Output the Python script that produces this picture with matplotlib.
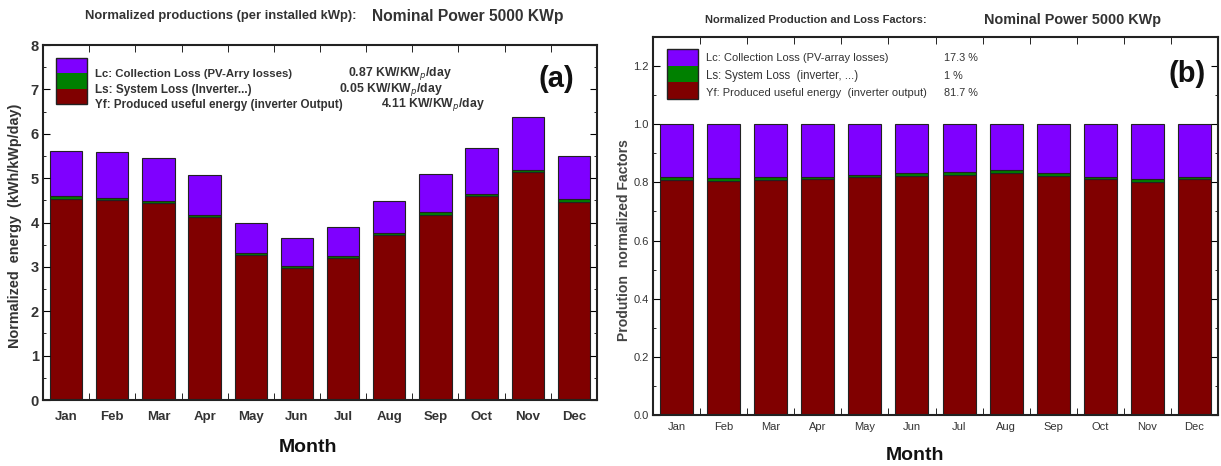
import numpy as np
import matplotlib
matplotlib.use('Agg')
import matplotlib.pyplot as plt
from matplotlib.patches import Rectangle

plt.rcParams['font.family'] = ['Liberation Sans', 'DejaVu Sans']

months = ['Jan', 'Feb', 'Mar', 'Apr', 'May', 'Jun', 'Jul', 'Aug', 'Sep', 'Oct', 'Nov', 'Dec']

# (a) normalized energy, kWh/kWp/day
yf_a = [4.54, 4.51, 4.44, 4.12, 3.26, 2.98, 3.20, 3.71, 4.18, 4.60, 5.13, 4.47]
ls_a = [0.06, 0.05, 0.05, 0.05, 0.05, 0.04, 0.05, 0.05, 0.05, 0.05, 0.06, 0.06]
lc_a = [1.01, 1.03, 0.96, 0.90, 0.69, 0.63, 0.65, 0.73, 0.87, 1.02, 1.19, 0.96]

# (b) normalized factors
yf_b = [0.809, 0.805, 0.809, 0.813, 0.818, 0.823, 0.825, 0.832, 0.823, 0.811, 0.803, 0.813]
ls_b = [0.009, 0.010, 0.008, 0.007, 0.007, 0.009, 0.012, 0.009, 0.009, 0.009, 0.010, 0.007]
lc_b = [1 - a - b for a, b in zip(yf_b, ls_b)]

legend_a = ['Lc: Collection Loss (PV-Arry losses)', 'Ls: System Loss (Inverter...)',
            'Yf: Produced useful energy (inverter Output)']
values_a = ['0.87 KW/KW$_p$/day', '0.05 KW/KW$_p$/day', '4.11 KW/KW$_p$/day']
legend_b = ['Lc: Collection Loss (PV-array losses)', 'Ls: System Loss  (inverter, ...)',
            'Yf: Produced useful energy  (inverter output)']
values_b = ['17.3 %', '1 %', '81.7 %']

purple = '#7f00ff'
green = '#008000'
red = '#800000'
txt = '#333333'

W, H = 1221, 466
fig = plt.figure(figsize=(W / 100, H / 100), dpi=100)
renderer = fig.canvas.get_renderer()


def fx(px):
    return px / W


def fy(py):
    return 1 - py / H


def fit(t, size, vertical=False):
    # scale a text so it spans the given pixel width (or height if rotated)
    bb = t.get_window_extent(renderer)
    cur = bb.height if vertical else bb.width
    t.set_fontsize(t.get_fontsize() * size / cur)
    return t


def stack(ax, yf, ls, lc):
    x = np.arange(len(months))
    kw = dict(width=0.7, edgecolor='#222222', linewidth=0.8)
    ax.bar(x, yf, color=red, **kw)
    ax.bar(x, ls, bottom=yf, color=green, **kw)
    ax.bar(x, lc, bottom=np.array(yf) + np.array(ls), color=purple, **kw)
    ax.set_xlim(-0.5, 11.5)
    ax.set_xticks(x)
    ax.set_xticks(np.arange(0.5, 11.5, 1), minor=True)
    ax.tick_params(axis='x', which='major', length=0)
    ax.tick_params(axis='x', which='minor', direction='in', length=5, top=True, bottom=True)
    ax.tick_params(axis='y', which='both', direction='in', right=True)
    ax.tick_params(axis='y', which='major', length=5)
    ax.tick_params(axis='y', which='minor', length=2.5)
    for s in ax.spines.values():
        s.set_linewidth(1.5)
        s.set_color('#222222')


# ---------- (a)
ax1 = fig.add_axes([fx(43), fy(400), fx(597 - 43), (400 - 45) / H])
stack(ax1, yf_a, ls_a, lc_a)
ax1.set_ylim(0, 8)
ax1.set_yticks(range(0, 9))
ax1.set_yticks(np.arange(0.5, 8, 1), minor=True)
ax1.set_xticklabels(months, fontsize=9.5, fontweight='bold', color=txt)
ax1.set_yticklabels([str(v) for v in range(0, 9)], fontsize=10.5, fontweight='bold', color=txt)
ax1.tick_params(axis='x', pad=8)
ax1.tick_params(axis='y', pad=3)

# ---------- (b)
ax2 = fig.add_axes([fx(653), fy(415), fx(1218 - 653), (415 - 37) / H])
stack(ax2, yf_b, ls_b, lc_b)
ax2.set_ylim(0, 1.3)
ax2.set_yticks(np.arange(0, 1.21, 0.2))
ax2.set_yticks(np.arange(0.1, 1.3, 0.2), minor=True)
ax2.set_xticklabels(months, fontsize=8, color=txt)
ax2.set_yticklabels(['%.1f' % v for v in np.arange(0, 1.21, 0.2)], fontsize=8, color=txt)
ax2.tick_params(axis='x', pad=5)
ax2.tick_params(axis='y', pad=3)

# overlay in pixel coordinates for legends, titles and labels
lay = fig.add_axes([0, 0, 1, 1], facecolor='none')
lay.set_xlim(0, W)
lay.set_ylim(H, 0)
lay.axis('off')


def patch(x0, x1, y0, y1):
    hh = (y1 - y0) / 3
    for i, c in enumerate([purple, green, red]):
        lay.add_patch(Rectangle((x0, y0 + i * hh), x1 - x0, hh, facecolor=c, edgecolor='none'))
    lay.add_patch(Rectangle((x0, y0), x1 - x0, y1 - y0, facecolor='none',
                            edgecolor='#222222', linewidth=1))


patch(56, 87, 58, 104)
for y, t, w in zip([74, 90, 105], legend_a, [197, 157, 247]):
    fit(lay.text(95, y, t, fontsize=8, fontweight='bold', color=txt, va='center'), w)
for y, t, vx in zip([74, 90, 105], values_a, [348, 339, 381]):
    fit(lay.text(vx, y, t, fontsize=8, fontweight='bold', color=txt, va='center'), 104)

patch(667, 698, 49, 99)
for y, t, w in zip([58, 76, 93], legend_b, [183, 153, 222]):
    fit(lay.text(706, y, t, fontsize=8, color=txt, va='center'), w)
vs = fit(lay.text(944, 58, values_b[0], fontsize=8, color=txt, va='center'), 34).get_fontsize()
for y, t in zip([76, 93], values_b[1:]):
    lay.text(944, y, t, fontsize=vs, color=txt, va='center')

lay.text(556, 79, '(a)', fontsize=21, fontweight='bold', ha='center', va='center', color='#111111')
lay.text(1187, 74, '(b)', fontsize=21, fontweight='bold', ha='center', va='center', color='#111111')

# titles
fit(lay.text(85, 16, 'Normalized productions (per installed kWp):', fontsize=8, fontweight='bold',
             va='center', color=txt), 275)
fit(lay.text(372, 16, 'Nominal Power 5000 KWp', fontsize=10, fontweight='bold',
             va='center', color=txt), 192)
fit(lay.text(705, 20, 'Normalized Production and Loss Factors:', fontsize=8, fontweight='bold',
             va='center', color=txt), 222)
fit(lay.text(984, 20, 'Nominal Power 5000 KWp', fontsize=10, fontweight='bold',
             va='center', color=txt), 177)

# axis labels
fit(lay.text(15, 226, 'Normalized  energy  (kWh/kWp/day)', rotation=90, fontsize=9, fontweight='bold',
             ha='center', va='center', color=txt), 245, vertical=True)
fit(lay.text(624, 240, 'Prodution  normalized Factors', rotation=90, fontsize=9, fontweight='bold',
             ha='center', va='center', color='#444444'), 203, vertical=True)
lay.text(308, 447, 'Month', fontsize=14, fontweight='bold', ha='center', va='center', color='#111111')
lay.text(915, 456, 'Month', fontsize=14, fontweight='bold', ha='center', va='center', color='#111111')

fig.savefig('out.png', dpi=100)
